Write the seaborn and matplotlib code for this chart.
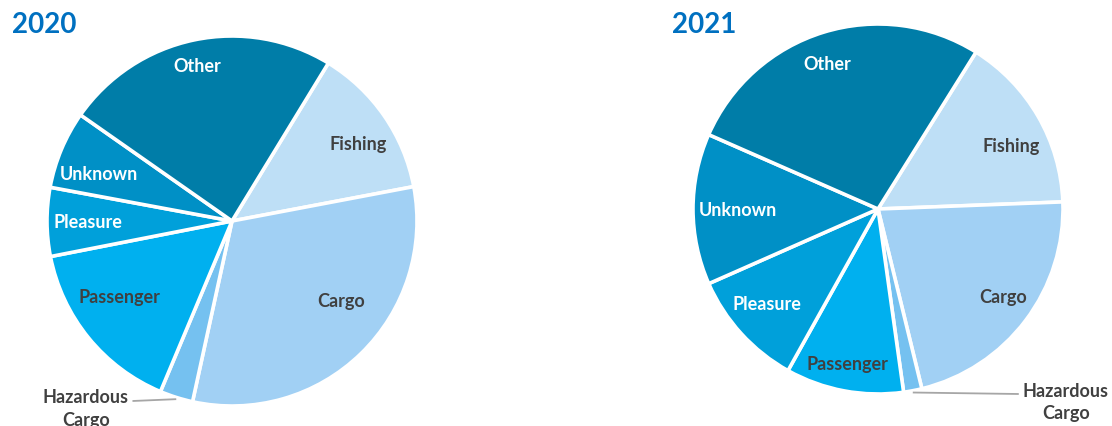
import numpy as np
import matplotlib
matplotlib.use("Agg")
import matplotlib.pyplot as plt
import seaborn as sns

# Share of incidents by vessel type (%), listed clockwise from the Fishing slice
categories = ["Fishing", "Cargo", "Hazardous\nCargo", "Passenger", "Pleasure", "Unknown", "Other"]
share_2020 = [13.3, 31.4, 2.9, 15.6, 6.0, 6.8, 24.0]
share_2021 = [15.5, 21.8, 1.6, 10.3, 10.3, 13.2, 27.3]
years = ["2020", "2021"]

sns.set_theme(style="white")
plt.rcParams["font.family"] = ["Lato", "DejaVu Sans"]

colors = ["#BEDFF6", "#A1D0F4", "#75C1F0", "#00B0EF", "#00A0DA", "#0090C6", "#007DA8"]
text_colors = ["#404040", "#404040", "#404040", "#404040", "white", "white", "white"]

W, H = 1112, 427
fig = plt.figure(figsize=(W / 100, H / 100), dpi=100)
fig.patch.set_facecolor("white")

# label offsets (in pie-radius units) for each slice label
label_pos = {
    "2020": [(0.68, 0.42), (0.59, -0.43), (-0.79, -1.01), (-0.61, -0.41),
             (-0.78, -0.005), (-0.72, 0.255), (-0.19, 0.84)],
    "2021": [(0.717, 0.342), (0.679, -0.473), (1.016, -1.04), (-0.163, -0.837),
             (-0.603, -0.511), (-0.755, -0.005), (-0.277, 0.788)],
}
leader_end = {"2020": (-0.538, -0.973), "2021": (0.761, -1.0)}
layout = {"2020": dict(cx=232, cy=222, r=185, start=58.6, title_x=12),
          "2021": dict(cx=878, cy=210, r=185, start=58.0, title_x=672)}

for year, values in zip(years, [share_2020, share_2021]):
    p = layout[year]
    ax = fig.add_axes([(p["cx"] - p["r"]) / W, (H - p["cy"] - p["r"]) / H,
                       2 * p["r"] / W, 2 * p["r"] / H])
    wedges, _ = ax.pie(values, colors=colors, startangle=p["start"], counterclock=False,
                       radius=1.0,
                       wedgeprops=dict(edgecolor="white", linewidth=2.6))
    ax.set_xlim(-1, 1)
    ax.set_ylim(-1, 1)
    ax.set_aspect("equal")
    ax.axis("off")

    for i, (name, (lx, ly)) in enumerate(zip(categories, label_pos[year])):
        ax.text(lx, ly, name, ha="center", va="center", fontsize=13,
                fontweight="bold", color=text_colors[i], clip_on=False,
                linespacing=1.4)

    # leader line for the thin hazardous-cargo slice
    w = wedges[2]
    mid = np.deg2rad((w.theta1 + w.theta2) / 2)
    ex, ey = leader_end[year]
    ax.plot([np.cos(mid), ex], [np.sin(mid) * 1.01, ey], color="#A6A6A6", lw=1.3,
            clip_on=False, solid_capstyle="butt")

    fig.text(p["title_x"] / W, 1 - 25 / H, year, ha="left", va="center",
             fontsize=20, fontweight="bold", color="#0070C0")

fig.savefig("out.png", dpi=100, facecolor="white")
